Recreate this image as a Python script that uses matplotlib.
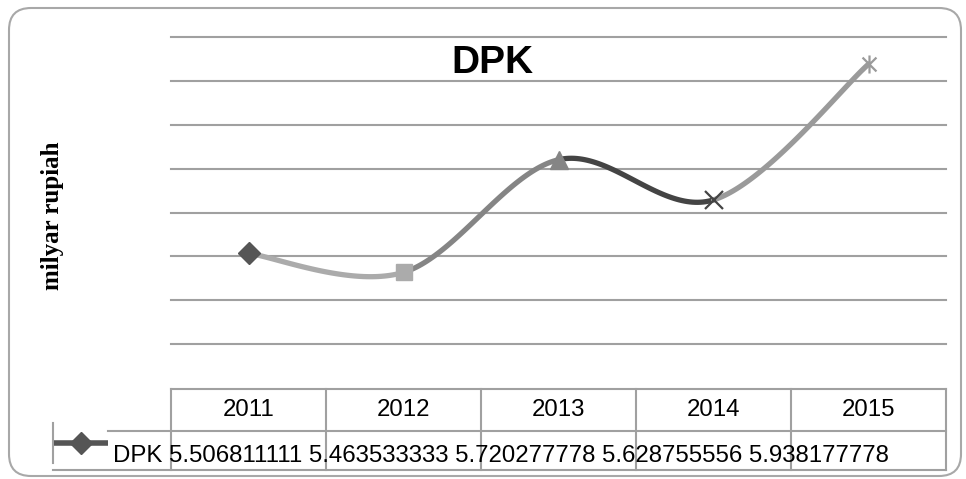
import numpy as np
import matplotlib
matplotlib.use("Agg")
import matplotlib.pyplot as plt
from matplotlib.patches import FancyBboxPatch
from matplotlib.path import Path
from matplotlib.transforms import blended_transform_factory

# Data
years = ["2011", "2012", "2013", "2014", "2015"]
dpk = [5.506811111, 5.463533333, 5.720277778, 5.628755556, 5.938177778]
series_name = "DPK"
y_label = "milyar rupiah"

# Per-point styling (Excel "vary colours by point")
seg_colors = ["#ababab", "#858585", "#444444", "#9a9a9a"]
mk_styles = ["D", "s", "^", "x", "star"]
mk_colors = ["#555555", "#ababab", "#858585", "#444444", "#9a9a9a"]
mk_sizes = [11, 12, 13, 13, 13]

star_path = Path([(-1, -1), (1, 1), (-1, 1), (1, -1), (0, -1.3), (0, 1.3)],
                 [Path.MOVETO, Path.LINETO, Path.MOVETO, Path.LINETO,
                  Path.MOVETO, Path.LINETO])

W, H = 966, 479
fig = plt.figure(figsize=(W / 100, H / 100), dpi=100)

# Overlay axes in pixel units for the frame and the decorations
fax = fig.add_axes([0, 0, 1, 1], zorder=0)
fax.set_xlim(0, W)
fax.set_ylim(H, 0)
fax.axis("off")

frame = FancyBboxPatch((9, 8), 952, 468, boxstyle="round,pad=0,rounding_size=22",
                       ec="#a8a8a8", fc="white", lw=1.5)
fax.add_patch(frame)

# Plot area
ax = fig.add_axes([171 / W, 1 - 388 / H, 775 / W, 351 / H], zorder=1)
ax.set_facecolor("none")
ax.set_xlim(-0.5, len(years) - 0.5)
ax.set_ylim(5.2, 6.0)
ax.set_yticks(np.round(np.arange(5.3, 6.001, 0.1), 1))
ax.set_xticks([])
ax.tick_params(length=0, labelleft=False, labelbottom=False)
for s in ax.spines.values():
    s.set_visible(False)
ax.yaxis.grid(True, color="#a0a0a0", lw=1.5)
for gl in ax.get_ygridlines():
    gl.set_clip_on(False)


def smooth_segment(pts, i, n=60):
    """Bezier segment between point i and i+1 with Catmull-Rom style handles."""
    p0 = pts[max(i - 1, 0)]
    p1 = pts[i]
    p2 = pts[i + 1]
    p3 = pts[min(i + 2, len(pts) - 1)]
    c1 = p1 + (p2 - p0) / 6.0
    c2 = p2 - (p3 - p1) / 6.0
    t = np.linspace(0, 1, n)[:, None]
    return ((1 - t) ** 3) * p1 + 3 * ((1 - t) ** 2) * t * c1 + 3 * (1 - t) * t ** 2 * c2 + t ** 3 * p2


pts = np.column_stack([np.arange(len(dpk)), dpk]).astype(float)
for i in range(len(dpk) - 1):
    seg = smooth_segment(pts, i)
    ax.plot(seg[:, 0], seg[:, 1], color=seg_colors[i], lw=3.8,
            solid_capstyle="round", zorder=3, clip_on=False)

for i, v in enumerate(dpk):
    m = star_path if mk_styles[i] == "star" else mk_styles[i]
    if mk_styles[i] in ("x", "star"):
        ax.plot(i, v, marker=m, color=mk_colors[i], ms=mk_sizes[i], mew=1.6,
                ls="none", zorder=4, clip_on=False)
    else:
        ax.plot(i, v, marker=m, color=mk_colors[i], mec=mk_colors[i],
                ms=mk_sizes[i], ls="none", zorder=4, clip_on=False)

# Title and axis title
fax.text(492, 73, series_name, fontsize=28, fontweight="bold",
         family="Liberation Sans", ha="center", va="baseline")
fax.text(53, 216, y_label, rotation=90, fontsize=18, fontweight="bold",
         family="Liberation Serif", ha="center", va="center")

# Data table under the plot
grid_c = "#a0a0a0"
tx = blended_transform_factory(ax.transData, fax.transData)
x_left, x_right = 171, 946
fax.plot([x_left, x_right], [389, 389], color=grid_c, lw=1.5)
fax.plot([108, x_right], [431, 431], color=grid_c, lw=1.5)
fax.plot([53, x_right], [470, 470], color=grid_c, lw=1.5)
fax.plot([53, 53], [423, 463], color=grid_c, lw=1.5)
for b in np.arange(len(years) + 1) - 0.5:
    fax.plot([b, b], [389, 470], color=grid_c, lw=1.5, transform=tx)
for i, yr in enumerate(years):
    fax.text(i, 416, yr, transform=tx, fontsize=17.3, family="Liberation Sans",
             ha="center", va="baseline")

# Legend key in the table
fax.plot([54, 108], [443, 443], color="#555555", lw=4, solid_capstyle="butt")
fax.plot([81], [443], marker="D", color="#555555", ms=11)

row_text = series_name + " " + " ".join(f"{v:.9f}" for v in dpk)
fax.text(113, 462, row_text, fontsize=17.3, family="Liberation Sans",
         ha="left", va="baseline")

fig.savefig("out.png", dpi=100)
